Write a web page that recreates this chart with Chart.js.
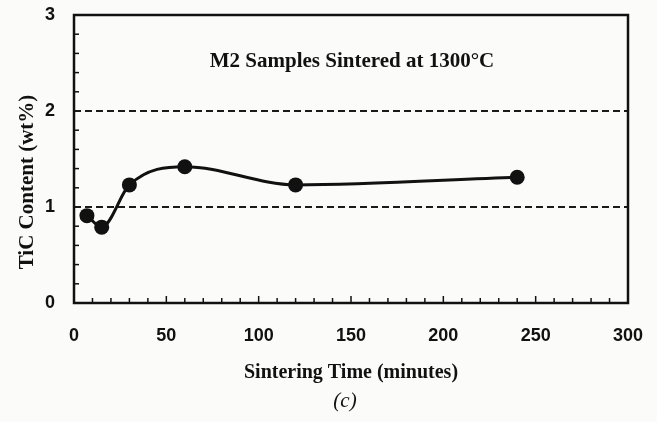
<!DOCTYPE html>
<html>
<head>
<meta charset="utf-8">
<script src="https://cdn.jsdelivr.net/npm/chart.js@4.4.1/dist/chart.umd.min.js"></script>
<style>
  html, body { margin: 0; padding: 0; background: #fbfbf9; }
  #wrap { width: 657px; height: 422px; }
</style>
</head>
<body>
<div id="wrap"><canvas id="tic"></canvas></div>
<script>
// sintering time (minutes) and TiC content (wt%)
const timeMin = [7, 15, 30, 60, 120, 240];
const ticContent = [0.91, 0.79, 1.23, 1.42, 1.23, 1.31];
const refLevels = [1, 2];
const xTicks = [0, 50, 100, 150, 200, 250, 300];
const yTicks = [0, 1, 2, 3];

const serif = "'Liberation Serif', 'Times New Roman', serif";
const sans = "'Liberation Sans', Arial, sans-serif";

let points = timeMin.map((t, i) => ({ x: t, y: ticContent[i] }));

let refSets = refLevels.map(v => ({
    data: [{ x: xTicks[0], y: v }, { x: xTicks[xTicks.length - 1], y: v }],
    showLine: true,
    borderColor: '#1a1a1a',
    borderWidth: 1.8,
    borderDash: [7, 4],
    pointRadius: 0,
    order: 2
}));

// frame, inward ticks and the extra texts
const decor = {
    id: 'decor',
    beforeDraw(chart) {
        let c = chart.ctx;
        c.save();
        c.fillStyle = '#fbfbf9';
        c.fillRect(0, 0, chart.width, chart.height);
        c.restore();
    },
    afterDatasetsDraw(chart) {
        let c = chart.ctx;
        let a = chart.chartArea;
        let xs = chart.scales.x, ys = chart.scales.y;
        c.save();
        c.strokeStyle = '#111';
        c.lineWidth = 1.5;
        for (let v = 10; v < 300; v += 10) {
            let px = xs.getPixelForValue(v);
            let len = v % 50 === 0 ? 7 : 5;
            c.beginPath();
            c.moveTo(px, a.bottom);
            c.lineTo(px, a.bottom - len);
            c.stroke();
        }
        for (let k = 1; k < 15; k++) {
            if (k % 5 === 0) continue;
            let py = ys.getPixelForValue(k / 5);
            c.beginPath();
            c.moveTo(a.left, py);
            c.lineTo(a.left + 5, py);
            c.stroke();
        }
        c.lineWidth = 2.5;
        c.strokeRect(a.left, a.top, a.right - a.left, a.bottom - a.top);

        c.fillStyle = '#111';
        c.textAlign = 'center';
        c.textBaseline = 'middle';
        c.font = 'bold 21px ' + serif;
        c.fillText('M2 Samples Sintered at 1300°C', 352, 62);

        c.save();
        c.translate(28, 182);
        c.rotate(-Math.PI / 2);
        c.fillText('TiC Content (wt%)', 0, 0);
        c.restore();

        c.font = 'italic 21px ' + serif;
        c.fillText('(c)', 345, 401);
        c.restore();
    }
};

function noPad(s) {
    s.paddingLeft = 0;
    s.paddingRight = 0;
    s.paddingTop = 0;
    s.paddingBottom = 0;
}

let ctx = document.getElementById('tic').getContext('2d');
let ticChart = new Chart(ctx, {
    type: 'scatter',
    data: {
        datasets: [{
            data: points,
            showLine: true,
            cubicInterpolationMode: 'monotone',
            borderColor: '#111',
            borderWidth: 3,
            backgroundColor: '#111',
            pointRadius: 7.5,
            pointBorderWidth: 0,
            order: 1
        }].concat(refSets)
    },
    options: {
        responsive: true,
        maintainAspectRatio: false,
        animation: false,
        layout: { padding: { left: 12, right: 29, top: 15, bottom: 0 } },
        plugins: {
            legend: { display: false },
            tooltip: { enabled: false }
        },
        scales: {
            x: {
                type: 'linear',
                min: 0,
                max: 300,
                afterFit: s => { s.height = 119; noPad(s); },
                afterBuildTicks: s => { s.ticks = xTicks.map(v => ({ value: v })); },
                grid: { display: false, drawTicks: false },
                border: { display: false },
                ticks: {
                    padding: 22,
                    color: '#111',
                    font: { family: sans, size: 18, weight: 'bold' }
                },
                title: {
                    display: true,
                    text: 'Sintering Time (minutes)',
                    color: '#111',
                    font: { family: serif, size: 20, weight: 'bold' },
                    padding: { top: 0, bottom: 37 }
                }
            },
            y: {
                min: 0,
                max: 3,
                afterFit: s => { s.width = 62; noPad(s); },
                afterBuildTicks: s => { s.ticks = yTicks.map(v => ({ value: v })); },
                grid: { display: false, drawTicks: false },
                border: { display: false },
                ticks: {
                    padding: 19,
                    color: '#111',
                    font: { family: sans, size: 18, weight: 'bold' }
                }
            }
        }
    },
    plugins: [decor]
});
</script>
</body>
</html>
